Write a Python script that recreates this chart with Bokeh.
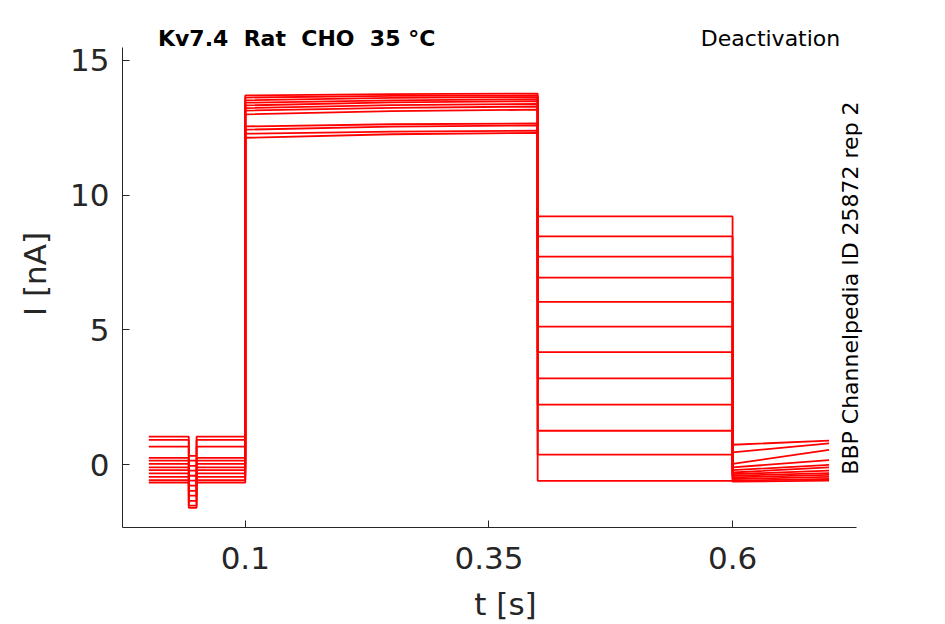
from bokeh.plotting import figure
from bokeh.models import Range1d, Label, FixedTicker, ColumnDataSource
from bokeh.embed import file_html
from bokeh.resources import INLINE

# ---- data ----
# protocol step times [s]
t_start = 0.001
t_notch_on = 0.042
t_notch_off = 0.050
t_act_on = 0.100
t_act_mid = 0.250
t_deact_on = 0.400
t_tail_on = 0.600
t_end = 0.699

# current levels [nA], one entry per sweep (12 sweeps)
pre_level = [1.04, 0.92, 0.67, 0.25, 0.15, 0.03, -0.10, -0.20, -0.32, -0.45, -0.57, -0.66]
notch_level = [0.33, 0.15, -0.04, -0.22, -0.41, -0.59, -0.78, -0.97, -1.15, -1.34, -1.52, -1.60]
act_start = [13.70, 13.62, 13.52, 13.43, 13.33, 13.23, 13.14, 13.00, 12.55, 12.43, 12.28, 12.13]
act_mid = [13.75, 13.68, 13.61, 13.52, 13.44, 13.34, 13.24, 13.12, 12.63, 12.54, 12.36, 12.26]
act_end = [13.77, 13.70, 13.64, 13.56, 13.49, 13.39, 13.29, 13.17, 12.66, 12.59, 12.39, 12.31]
deact_level = [9.21, 8.47, 7.72, 6.94, 6.04, 5.12, 4.18, 3.20, 2.23, 1.26, 0.37, -0.60]
tail_start = [0.74, 0.46, 0.03, -0.10, -0.20, -0.29, -0.35, -0.41, -0.47, -0.53, -0.59, -0.63]
tail_end = [0.89, 0.79, 0.55, 0.17, -0.01, -0.10, -0.22, -0.31, -0.38, -0.45, -0.53, -0.59]

x_ticks = [0.1, 0.35, 0.6]
y_ticks = [0, 5, 10, 15]

title_text = "Kv7.4 \u00a0Rat \u00a0CHO \u00a035 \u00b0C"
protocol_text = "Deactivation"
id_text = "BBP Channelpedia ID 25872 rep 2"

# axes extents (data units) and the slightly larger drawing area
x_axis_lim = (-0.026, 0.7275)
y_axis_lim = (-2.33, 15.48)

# ---- build sweeps ----
times = [t_start, t_notch_on, t_notch_on, t_notch_off, t_notch_off, t_act_on, t_act_on,
         t_act_mid, t_deact_on, t_deact_on, t_tail_on, t_tail_on, t_end]
xs, ys = [], []
for i in range(len(pre_level)):
    xs.append(times)
    ys.append([pre_level[i], pre_level[i], notch_level[i], notch_level[i], pre_level[i],
               pre_level[i], act_start[i], act_mid[i], act_end[i], deact_level[i],
               deact_level[i], tail_start[i], tail_end[i]])
src = ColumnDataSource(dict(xs=xs, ys=ys))

FONT = "DejaVu Sans"
TXT = "#262626"

p = figure(width=937, height=617, frame_width=766, frame_height=507,
           output_backend="svg", toolbar_location=None,
           x_range=Range1d(x_axis_lim[0], 0.76), y_range=Range1d(y_axis_lim[0], 16.48),
           min_border_left=122, min_border_top=20, min_border_right=40, min_border_bottom=90)
p.multi_line(xs="xs", ys="ys", source=src, line_color="#ff0000", line_width=1.8)

p.grid.visible = False
p.outline_line_color = None
p.background_fill_color = "white"
p.border_fill_color = "white"

for ax in (p.xaxis[0], p.yaxis[0]):
    ax.axis_line_color = TXT
    ax.axis_line_width = 1
    ax.major_tick_line_color = TXT
    ax.major_tick_in = 7
    ax.major_tick_out = 0
    ax.minor_tick_line_color = None
    ax.major_label_text_font = FONT
    ax.major_label_text_font_size = "31px"
    ax.major_label_text_color = TXT
    ax.axis_label_text_font = FONT
    ax.axis_label_text_font_size = "31px"
    ax.axis_label_text_color = TXT
    ax.axis_label_text_font_style = "normal"

p.xaxis[0].bounds = x_axis_lim
p.yaxis[0].bounds = y_axis_lim
p.xaxis[0].ticker = FixedTicker(ticks=x_ticks)
p.yaxis[0].ticker = FixedTicker(ticks=y_ticks)
p.xaxis[0].axis_label = "t [s]"
p.yaxis[0].axis_label = "I [nA]"
p.xaxis[0].major_label_standoff = 19
p.yaxis[0].major_label_standoff = 13
p.xaxis[0].axis_label_standoff = 14
p.yaxis[0].axis_label_standoff = 14
p.xaxis[0].major_label_overrides = {0.1: "0.1", 0.35: "0.35", 0.6: "0.6"}

p.add_layout(Label(x=0.0104, y=15.8, text=title_text, text_font=FONT, text_font_size="22px",
                   text_font_style="bold", text_color="black", text_align="left",
                   text_baseline="alphabetic"))
p.add_layout(Label(x=0.7105, y=15.8, text=protocol_text, text_font=FONT, text_font_size="22px",
                   text_color="black", text_align="right", text_baseline="alphabetic"))
p.add_layout(Label(x=0.7205, y=-0.37, text=id_text, text_font=FONT, text_font_size="22px",
                   text_color="black", text_align="left", text_baseline="middle",
                   angle=90, angle_units="deg"))

open("out.html", "w").write(file_html(p, INLINE))
